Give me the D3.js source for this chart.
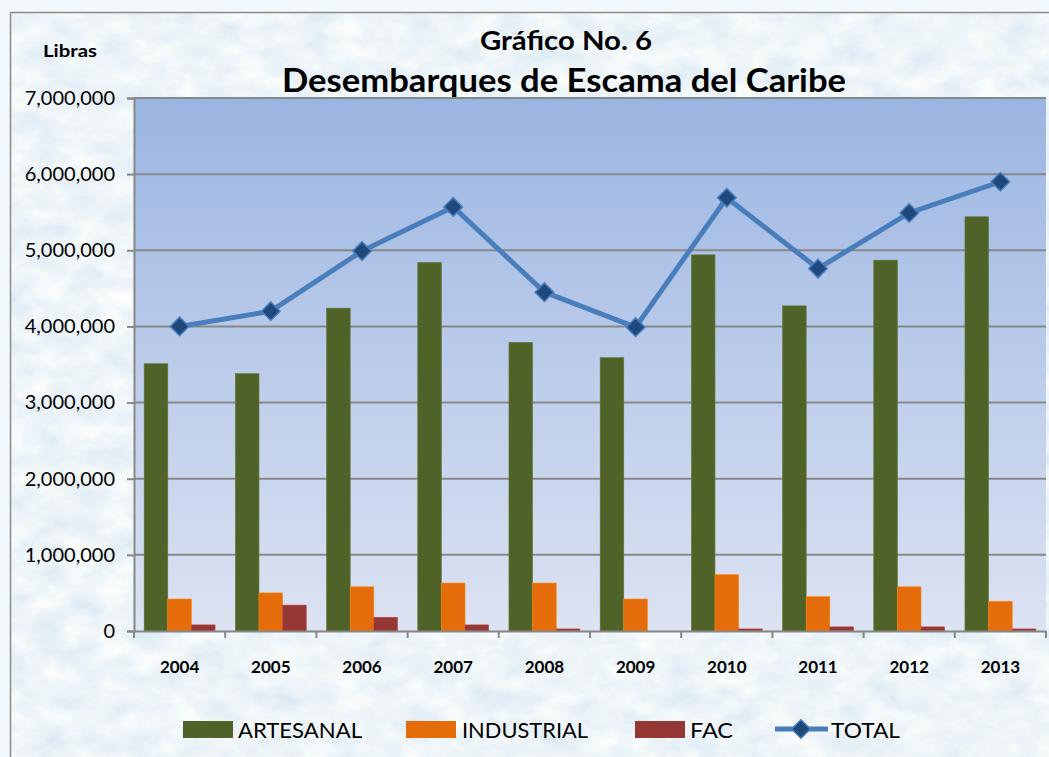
<!DOCTYPE html>
<html>
<meta charset="utf-8">
<script src="https://d3js.org/d3.v7.min.js"></script>
<style>
  body { margin: 0; background: #f2f9fc; }
  text { font-family: Lato, "Open Sans", sans-serif; }
</style>
<body>
<div id="vis"></div>
<script>

// data (pounds)
var years = ["2004", "2005", "2006", "2007", "2008", "2009", "2010", "2011", "2012", "2013"];
var artesanal  = [3510000, 3380000, 4240000, 4840000, 3790000, 3590000, 4940000, 4270000, 4870000, 5440000];
var industrial = [420000, 500000, 580000, 630000, 630000, 420000, 740000, 450000, 580000, 390000];
var fac        = [80000, 340000, 180000, 80000, 27000, 0, 27000, 54000, 54000, 27000];
var total      = [4000000, 4200000, 4990000, 5570000, 4450000, 3990000, 5690000, 4760000, 5490000, 5900000];
var yTicks = [0, 1000000, 2000000, 3000000, 4000000, 5000000, 6000000, 7000000];

var seriesNames = ["ARTESANAL", "INDUSTRIAL", "FAC"];
var seriesColors = ["#4f6228", "#e46c0a", "#953735"];
var seriesValues = [artesanal, industrial, fac];

var W = 1049, H = 757;
var plot = {left: 134, right: 1046, top: 98, bottom: 631};

var svg = d3.select("#vis").append("svg")
    .attr("width", W)
    .attr("height", H);

var defs = svg.append("defs");

// mottled light blue paper texture
var f = defs.append("filter").attr("id", "paper")
    .attr("x", 0).attr("y", 0).attr("width", 1).attr("height", 1);
f.append("feTurbulence")
    .attr("type", "fractalNoise")
    .attr("baseFrequency", "0.03 0.045")
    .attr("numOctaves", 4)
    .attr("seed", 7);
f.append("feColorMatrix")
    .attr("type", "matrix")
    .attr("values",
      "0.36 0 0 0 0.67 " +
      "0.24 0 0 0 0.79 " +
      "0.10 0 0 0 0.89 " +
      "0 0 0 0 1");

var grad = defs.append("linearGradient").attr("id", "plotbg")
    .attr("x1", 0).attr("y1", 0).attr("x2", 0).attr("y2", 1);
grad.append("stop").attr("offset", "0%").attr("stop-color", "#9bb5e2");
grad.append("stop").attr("offset", "100%").attr("stop-color", "#dce3f2");

// chart area
svg.append("rect")
    .attr("x", 10).attr("y", 12)
    .attr("width", W).attr("height", H)
    .attr("filter", "url(#paper)");
svg.append("rect")
    .attr("x", 10.5).attr("y", 12.5)
    .attr("width", W).attr("height", H)
    .attr("fill", "none")
    .attr("stroke", "#8a8a8a")
    .attr("stroke-width", 1.5);

// plot area
svg.append("rect")
    .attr("x", plot.left).attr("y", plot.top)
    .attr("width", plot.right - plot.left)
    .attr("height", plot.bottom - plot.top)
    .attr("fill", "url(#plotbg)");

var x = d3.scaleBand()
    .domain(years)
    .range([plot.left, plot.right])
    .paddingInner(0).paddingOuter(0);

var xs = d3.scaleBand()
    .domain(seriesNames)
    .range([0, x.bandwidth()])
    .paddingInner(0)
    .paddingOuter(0.43);

var y = d3.scaleLinear()
    .domain([0, 7000000])
    .range([plot.bottom, plot.top]);

// gridlines
svg.append("g")
  .selectAll("line")
  .data(yTicks.slice(1))
  .enter().append("line")
    .attr("x1", plot.left).attr("x2", plot.right)
    .attr("y1", function(d) { return y(d); })
    .attr("y2", function(d) { return y(d); })
    .attr("stroke", "#878787")
    .attr("stroke-width", 2);

// bars
seriesNames.forEach(function(name, i) {
  svg.append("g")
    .selectAll("rect")
    .data(years)
    .enter().append("rect")
      .attr("x", function(d) { return x(d) + xs(name); })
      .attr("y", function(d, j) { return y(seriesValues[i][j]); })
      .attr("width", xs.bandwidth())
      .attr("height", function(d, j) { return y(0) - y(seriesValues[i][j]); })
      .attr("fill", seriesColors[i])
      .attr("stroke", d3.color(seriesColors[i]).brighter(0.6))
      .attr("stroke-width", 0.6);
});

// y axis
var yAxis = svg.append("g")
    .attr("transform", "translate(" + plot.left + ",0)")
    .call(d3.axisLeft(y).tickValues(yTicks).tickFormat(d3.format(",")).tickSize(7).tickPadding(12));
yAxis.select(".domain").attr("stroke", "#878787").attr("stroke-width", 2);
yAxis.selectAll(".tick line").attr("stroke", "#878787").attr("stroke-width", 2);
yAxis.selectAll(".tick text")
    .attr("fill", "#000")
    .style("font-size", "20px")
    .style("font-family", "Lato, sans-serif");

// x axis
var xAxis = svg.append("g")
    .attr("transform", "translate(0," + plot.bottom + ")")
    .call(d3.axisBottom(x).tickSize(0).tickPadding(30));
xAxis.select(".domain").attr("stroke", "#878787").attr("stroke-width", 2);
xAxis.selectAll(".tick text")
    .attr("fill", "#000")
    .style("font-size", "17px")
    .style("font-weight", "bold")
    .style("font-family", "Lato, sans-serif");
svg.append("g")
  .selectAll("line")
  .data(years.concat(["end"]))
  .enter().append("line")
    .attr("x1", function(d, i) { return plot.left + i * x.step(); })
    .attr("x2", function(d, i) { return plot.left + i * x.step(); })
    .attr("y1", plot.bottom)
    .attr("y2", plot.bottom + 7)
    .attr("stroke", "#878787")
    .attr("stroke-width", 2);

// total line
var line = d3.line()
    .x(function(d, i) { return x(years[i]) + x.bandwidth() / 2; })
    .y(function(d) { return y(d); });

svg.append("path")
    .datum(total)
    .attr("d", line)
    .attr("fill", "none")
    .attr("stroke", "#4a7ebb")
    .attr("stroke-width", 5)
    .attr("stroke-linejoin", "round");

var diamond = d3.symbol().type(d3.symbolDiamond2).size(220);
svg.append("g")
  .selectAll("path")
  .data(total)
  .enter().append("path")
    .attr("d", diamond)
    .attr("transform", function(d, i) {
      return "translate(" + (x(years[i]) + x.bandwidth() / 2) + "," + y(d) + ")";
    })
    .attr("fill", "#1f497d")
    .attr("stroke", "#4a7ebb")
    .attr("stroke-width", 1.5);

// titles
svg.append("text")
    .attr("x", 566).attr("y", 50)
    .attr("text-anchor", "middle")
    .attr("textLength", 172).attr("lengthAdjust", "spacingAndGlyphs")
    .style("font-size", "26px").style("font-weight", "bold")
    .text("Gráfico No. 6");
svg.append("text")
    .attr("x", 564).attr("y", 92)
    .attr("text-anchor", "middle")
    .attr("textLength", 564).attr("lengthAdjust", "spacingAndGlyphs")
    .style("font-size", "33px").style("font-weight", "bold")
    .text("Desembarques de Escama del Caribe");
svg.append("text")
    .attr("x", 43).attr("y", 57)
    .attr("textLength", 54).attr("lengthAdjust", "spacingAndGlyphs")
    .style("font-size", "17px").style("font-weight", "bold")
    .text("Libras");

// legend
var legendItems = [
  {name: "ARTESANAL", color: seriesColors[0], x: 183, tx: 238, tw: 124},
  {name: "INDUSTRIAL", color: seriesColors[1], x: 406, tx: 462, tw: 126},
  {name: "FAC", color: seriesColors[2], x: 635, tx: 690, tw: 43}
];
var lg = svg.append("g");
legendItems.forEach(function(d) {
  lg.append("rect")
      .attr("x", d.x).attr("y", 721)
      .attr("width", 50).attr("height", 17)
      .attr("fill", d.color);
  lg.append("text")
      .attr("x", d.tx).attr("y", 738)
      .attr("textLength", d.tw).attr("lengthAdjust", "spacingAndGlyphs")
      .style("font-size", "22px")
      .text(d.name);
});
lg.append("line")
    .attr("x1", 775).attr("x2", 828)
    .attr("y1", 729).attr("y2", 729)
    .attr("stroke", "#4a7ebb").attr("stroke-width", 5);
lg.append("path")
    .attr("d", diamond)
    .attr("transform", "translate(801,729)")
    .attr("fill", "#1f497d")
    .attr("stroke", "#4a7ebb")
    .attr("stroke-width", 1.5);
lg.append("text")
    .attr("x", 831).attr("y", 738)
    .attr("textLength", 69).attr("lengthAdjust", "spacingAndGlyphs")
    .style("font-size", "22px")
    .text("TOTAL");

</script>
</body>
</html>
